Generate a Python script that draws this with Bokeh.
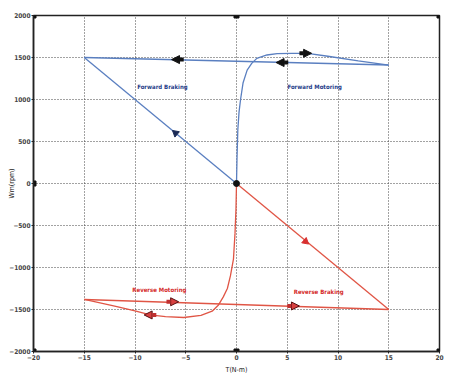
from bokeh.plotting import figure
from bokeh.models import Arrow, NormalHead, FixedTicker
from bokeh.core.properties import value
from bokeh.embed import file_html
from bokeh.resources import INLINE

# ---- data ----
x_ticks = [-20, -15, -10, -5, 0, 5, 10, 15, 20]
y_ticks = [-2000, -1500, -1000, -500, 0, 500, 1000, 1500, 2000]

# forward braking straight line (0,0) -> (-15,1500)
fb_x = [0, -15]
fb_y = [0, 1500]
# forward return line (15,1410) -> (-15,1500)
fr_x = [15, -15]
fr_y = [1410, 1500]
# forward motoring curve from origin
fm_x = [0, 0.05, 0.13, 0.25, 0.4, 0.65, 1.05, 1.5, 2.0, 3.0, 4.0, 5.5, 7.0, 9.0, 12.0, 15.0]
fm_y = [0, 300, 640, 850, 1000, 1200, 1350, 1430, 1490, 1530, 1545, 1550, 1548, 1515, 1460, 1410]

# reverse braking straight line (0,0) -> (15,-1500)
rb_x = [0, 15]
rb_y = [0, -1500]
# reverse return line (15,-1500) -> (-15,-1380)
rr_x = [15, -15]
rr_y = [-1500, -1380]
# reverse motoring curve
rm_x = [0, -0.05, -0.15, -0.3, -0.6, -0.9, -1.3, -1.8, -2.4, -3.5, -5.2, -7.0, -8.5, -10.0, -12.0, -15.0]
rm_y = [0, -300, -600, -900, -1100, -1250, -1350, -1450, -1520, -1570, -1595, -1585, -1565, -1515, -1460, -1380]

# block arrows: centre x, centre y, direction (+1 right, -1 left)
blue_arr_x = [6.8, 4.5, -5.8]
blue_arr_y = [1550, 1440, 1475]
blue_arr_d = [1, -1, -1]
red_arr_x = [-6.3, -8.5, 5.6]
red_arr_y = [-1408, -1565, -1458]
red_arr_d = [1, -1, 1]

# triangle markers on the straight lines
tri_blue = (-6.0, 600)
tri_red = (6.8, -690)

# labels
lab_text = ["Forward Braking", "Forward Motoring", "Reverse Motoring", "Reverse Braking"]
lab_x = [-7.3, 7.7, -7.6, 8.1]
lab_y = [1150, 1150, -1260, -1280]
lab_col = ["#1f3c88", "#1f3c88", "#d42a2a", "#d42a2a"]

x_title = "T(N-m)"
y_title = "Wm(rpm)"

# black box markers
box_x = [0, 20, 0, 20, -20, -20, -20]
box_y = [2000, 2000, -2000, -2000, 0, -2000, 2000]

BLUE = "#5a7fc0"
RED = "#e05545"
FONT = "DejaVu Sans Condensed"

p = figure(width=445, height=376, output_backend="svg", toolbar_location=None,
           x_range=(-20, 20), y_range=(-2000, 2000),
           min_border_left=33, min_border_right=6, min_border_top=15, min_border_bottom=24,
           background_fill_color="white", border_fill_color="white")

p.xaxis.ticker = FixedTicker(ticks=x_ticks)
p.yaxis.ticker = FixedTicker(ticks=y_ticks)
p.xaxis.axis_label = x_title
p.yaxis.axis_label = y_title
for ax in (p.xaxis, p.yaxis):
    ax.major_label_text_font = FONT
    ax.major_label_text_font_style = "bold"
    ax.major_label_text_font_size = "6.5px"
    ax.major_label_standoff = 1
    ax.axis_label_text_font = FONT
    ax.axis_label_text_font_style = "normal"
    ax.axis_label_text_font_size = "7px"
    ax.axis_label_text_color = "#222222"
    ax.major_tick_out = 2
    ax.major_tick_in = 0
    ax.minor_tick_out = 0
    ax.minor_tick_in = 0
    ax.axis_line_width = 1.5
    ax.axis_line_color = "#222222"
    ax.major_tick_line_color = "#222222"
p.xaxis.axis_label_standoff = 3
p.yaxis.axis_label_standoff = -10

p.grid.grid_line_color = "#444444"
p.grid.grid_line_dash = "1 2"
p.grid.grid_line_width = 1
p.outline_line_color = "#222222"
p.outline_line_width = 1.5

# blue curves
p.line(fb_x, fb_y, line_color=BLUE, line_width=1.3)
p.line(fr_x, fr_y, line_color=BLUE, line_width=1.5)
p.line(fm_x, fm_y, line_color=BLUE, line_width=1.3)
# red curves
p.line(rb_x, rb_y, line_color=RED, line_width=1.3)
p.line(rr_x, rr_y, line_color=RED, line_width=1.5)
p.line(rm_x, rm_y, line_color=RED, line_width=1.3)

# block arrows
half = 0.6
for x, y, d in zip(blue_arr_x, blue_arr_y, blue_arr_d):
    p.add_layout(Arrow(x_start=x - d * half, y_start=y, x_end=x + d * half, y_end=y,
                       line_color="#111111", line_width=4,
                       end=NormalHead(size=8, fill_color="#111111", line_color="#111111")))
for x, y, d in zip(red_arr_x, red_arr_y, red_arr_d):
    p.add_layout(Arrow(x_start=x - d * half, y_start=y, x_end=x + d * half, y_end=y,
                       line_color="#c03030", line_width=4,
                       end=NormalHead(size=8, fill_color="#d84040", line_color="#551111", line_width=1)))

# triangles on straight lines
p.scatter([tri_blue[0]], [tri_blue[1]], marker="triangle", size=7, angle=0.87,
          fill_color="#1a2a55", line_color="#1a2a55")
p.scatter([tri_red[0]], [tri_red[1]], marker="triangle", size=7, angle=-2.27,
          fill_color="#d83030", line_color="#d83030")

# origin point and box markers
p.scatter([0], [0], marker="circle", size=6, fill_color="#111111", line_color="#111111")
p.scatter(box_x, box_y, marker="square", size=5, fill_color="#111111", line_color="#111111")

# labels
p.text(lab_x, lab_y, text=lab_text, text_color=lab_col, text_font=value(FONT),
       text_font_style="bold", text_font_size="6px", text_align="center", text_baseline="middle")

open("out.html", "w").write(file_html(p, INLINE))
